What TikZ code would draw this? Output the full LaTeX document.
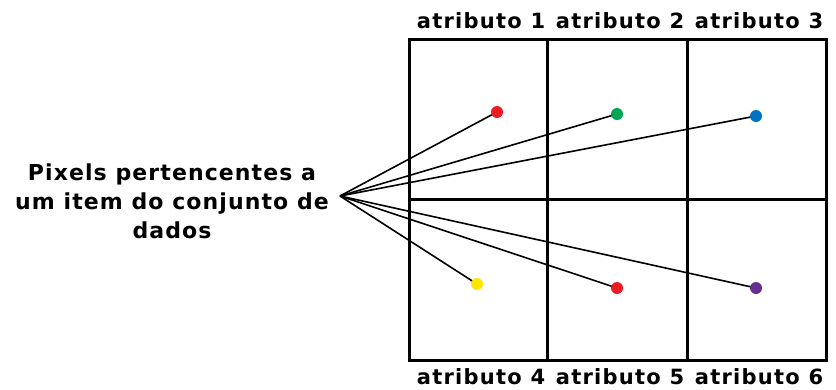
\documentclass[tikz,border=0pt]{standalone}
\usepackage{fontspec}
\setmainfont{DejaVu Sans}
\begin{document}
\begin{tikzpicture}[x=1pt,y=-1pt,
  grid/.style={line width=3pt},
  link/.style={line width=1.6pt},
  dot/.style={circle,inner sep=0pt,minimum size=12pt},
  lab/.style={font=\bfseries\fontsize{21}{23}\selectfont\addfontfeature{LetterSpace=6},inner sep=0pt},
  hubtext/.style={font=\bfseries\fontsize{22}{29}\selectfont\addfontfeature{LetterSpace=5},align=center,inner sep=0pt}]
\useasboundingbox (0,0) rectangle (836,389);
\definecolor{cr}{RGB}{237,28,36}
\definecolor{cg}{RGB}{0,166,81}
\definecolor{cb}{RGB}{0,114,198}
\definecolor{cy}{RGB}{255,230,0}
\definecolor{cp}{RGB}{102,45,145}
% grid
\draw[grid] (409,39) rectangle (826,360);
\draw[grid] (547,39) -- (547,360);
\draw[grid] (687,39) -- (687,360);
\draw[grid] (409,199) -- (826,199);
% labels
\node[lab] (a1) at (481,21) {atributo 1};
\node[lab] (a2) at (620,21) {atributo 2};
\node[lab] (a3) at (759,21) {atributo 3};
\node[lab] (a4) at (481,377) {atributo 4};
\node[lab] (a5) at (620,377) {atributo 5};
\node[lab] (a6) at (759,377) {atributo 6};
\node[hubtext] (t) at (172,201) {Pixels pertencentes a\\um item do conjunto de\\dados};
\coordinate (hub) at (340,196);
% dots
\node[dot] (d1) at (497,112) {};
\node[dot] (d2) at (617,114) {};
\node[dot] (d3) at (756,116) {};
\node[dot] (d4) at (477,284) {};
\node[dot] (d5) at (617,288) {};
\node[dot] (d6) at (756,288) {};
\foreach \d in {d1,d2,d3,d4,d5,d6} \draw[link] (hub) -- (\d.center);
\foreach \d/\c in {d1/cr,d2/cg,d3/cb,d4/cy,d5/cr,d6/cp} \fill[\c] (\d) circle (6pt);
\end{tikzpicture}
\end{document}
